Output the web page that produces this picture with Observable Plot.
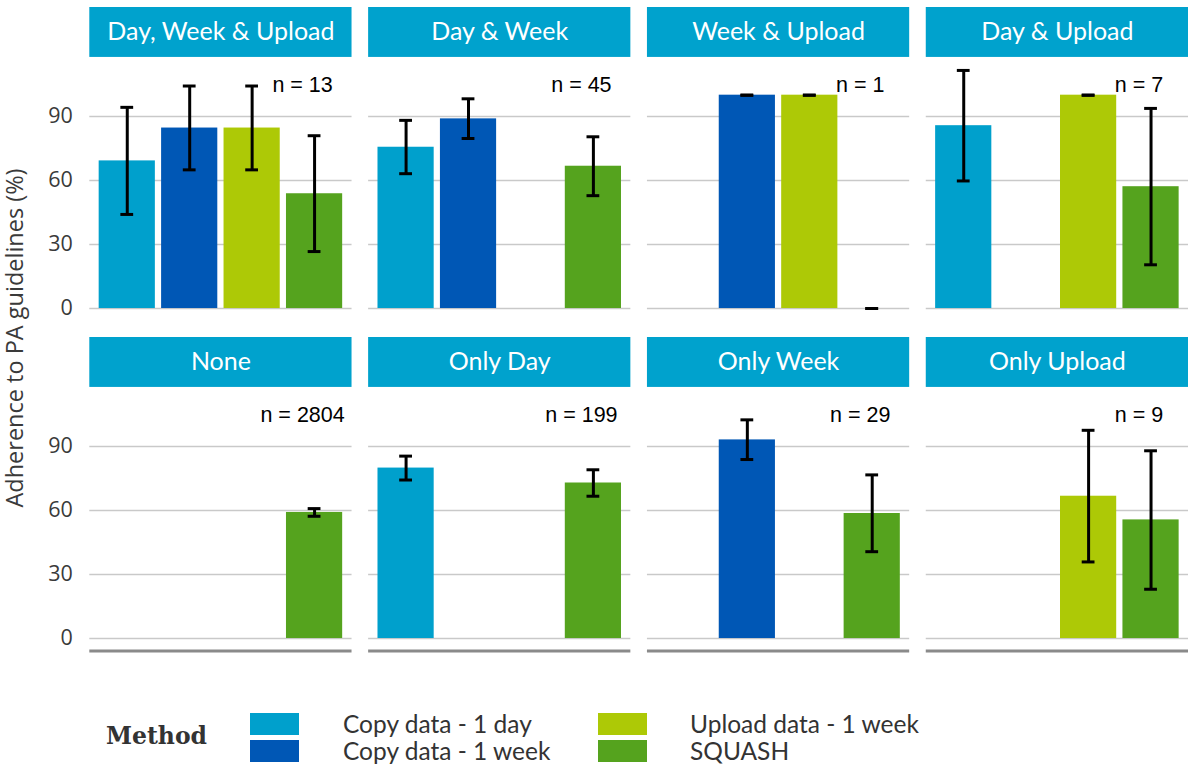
<!DOCTYPE html>
<html><head><meta charset="utf-8">
<script src="https://cdn.jsdelivr.net/npm/d3@7"></script>
<script src="https://cdn.jsdelivr.net/npm/@observablehq/plot@0.6"></script>
<style>
html,body{margin:0;padding:0;background:#fff;overflow:hidden}
body{width:1188px;height:766px;position:relative;font-family:"Open Sans",sans-serif}
#chart svg{display:block}
.lg-title{position:absolute;font-family:"DejaVu Serif",serif;font-weight:bold;font-size:23.5px;color:#333;line-height:1}
.lg-sw{position:absolute;width:49px;height:22px}
.lg-lab{position:absolute;font-family:Lato,sans-serif;font-size:24.5px;color:#333;line-height:22px;white-space:nowrap}
</style></head>
<body><div id="chart"></div><div id="legend"></div>
<script>
// ---- data ----
const panels = ["Day, Week & Upload","Day & Week","Week & Upload","Day & Upload","None","Only Day","Only Week","Only Upload"];
const panelN = [13,45,1,7,2804,199,29,9];
const methods = ["Copy data - 1 day","Copy data - 1 week","Upload data - 1 week","SQUASH"];
const methodColors = ["#00a0cc","#0057b5","#adc906","#55a31e"];
const adherence = [
  [69.2,84.6,84.6,53.8],
  [75.6,88.9,null,66.7],
  [null,100,100,0],
  [85.7,null,100,57.1],
  [null,null,null,59.1],
  [79.9,null,null,72.9],
  [null,93.1,null,58.6],
  [null,null,66.7,55.6]
];
const ciLow = [
  [44.1,65.0,65.0,26.7],
  [63.2,79.7,null,52.9],
  [null,100,100,0],
  [59.8,null,100,20.5],
  [null,null,null,57.3],
  [74.3,null,null,66.7],
  [null,83.9,null,40.7],
  [null,null,35.9,23.1]
];
const ciHigh = [
  [94.3,104.3,104.3,81.0],
  [88.2,98.3,null,80.5],
  [null,100,100,0],
  [111.6,null,100,93.8],
  [null,null,null,60.9],
  [85.5,null,null,79.1],
  [null,102.5,null,76.7],
  [null,null,97.6,88.0]
];
const yTicks = [0,30,60,90];
const legendTitle = "Method";
const yTitle = "Adherence to PA guidelines (%)";

// ---- tables ----
const bars = [];
panels.forEach((p,i) => methods.forEach((m,j) => {
  if (adherence[i][j] == null) return;
  bars.push({panel:p, col:i%4, row:Math.floor(i/4), method:m, value:adherence[i][j], lo:ciLow[i][j], hi:ciHigh[i][j]});
}));
const strips = panels.map((p,i) => ({panel:p, col:i%4, row:Math.floor(i/4), n:panelN[i]}));

const Y0 = -5.8, Y1 = 141.1, STRIP_LO = 117.7, NLABEL = 104.7;
const F = {fx:"col", fy:"row"};

const plot = Plot.plot({
  width:1188, height:660,
  marginTop:7, marginBottom:9.6, marginLeft:89.3, marginRight:0,
  fx:{axis:null, domain:[0,1,2,3], paddingInner:0.0595, paddingOuter:0, round:false},
  fy:{axis:null, domain:[0,1], paddingInner:0.0503, paddingOuter:0, round:false},
  x:{type:"band", domain:methods, paddingInner:0.1, paddingOuter:0.15, axis:null, round:false},
  y:{domain:[Y0,Y1], axis:null},
  color:{domain:methods, range:methodColors},
  style:{fontFamily:"Open Sans", background:"white", overflow:"visible"},
  marks:[
    Plot.ruleY(yTicks, {y:d=>d, stroke:"#c9c9c9", strokeWidth:1.4}),
    Plot.rect(strips, {...F, y1:()=>STRIP_LO, y2:()=>Y1, fill:"#00a2cd"}),
    Plot.text(strips, {...F, y:()=>(STRIP_LO+Y1)/2, text:"panel", fill:"white", fontSize:25, fontFamily:"Lato"}),
    Plot.barY(bars, {...F, x:"method", y:"value", fill:"method"}),
    Plot.ruleX(bars, {...F, x:"method", y1:"lo", y2:"hi", stroke:"black", strokeWidth:3}),
    Plot.tickY(bars, {...F, x:"method", y:"hi", insetLeft:21.7, insetRight:21.7, stroke:"black", strokeWidth:3}),
    Plot.tickY(bars, {...F, x:"method", y:"lo", insetLeft:21.7, insetRight:21.7, stroke:"black", strokeWidth:3}),
    Plot.text(strips, {...F, x:()=>methods[3], dx:-12, y:()=>NLABEL, text:d=>`n = ${d.n}`, fontSize:21.5, fontFamily:"Liberation Sans", fill:"black"}),
    Plot.ruleY(strips.filter(d=>d.row===1), {...F, y:()=>Y0, stroke:"#8a8a8a", strokeWidth:3}),
    Plot.axisY(yTicks, {tickSize:0, tickPadding:17, fontSize:21.5, label:null, fill:"#3a3a3a"})
  ]
});
document.getElementById("chart").append(plot);

// y title
d3.select(plot).append("text")
  .attr("transform","translate(23,338) rotate(-90)")
  .attr("text-anchor","middle")
  .attr("font-family","Open Sans").attr("font-size",23.5).attr("fill","#3a3a3a")
  .text(yTitle);

// legend
const t = document.createElement("div");
t.className = "lg-title"; t.textContent = legendTitle;
t.style.left = "106px"; t.style.top = "725px";
document.body.append(t);
methods.forEach((m,i) => {
  const c = Math.floor(i/2), r = i%2;
  const sw = document.createElement("div");
  sw.className = "lg-sw"; sw.style.background = methodColors[i];
  sw.style.left = (250 + c*348) + "px"; sw.style.top = (713 + r*26.5) + "px";
  document.body.append(sw);
  const lb = document.createElement("div");
  lb.className = "lg-lab"; lb.textContent = m;
  lb.style.left = (343 + c*347) + "px"; lb.style.top = (713 + r*26.5) + "px";
  document.body.append(lb);
});
</script>
</body></html>
